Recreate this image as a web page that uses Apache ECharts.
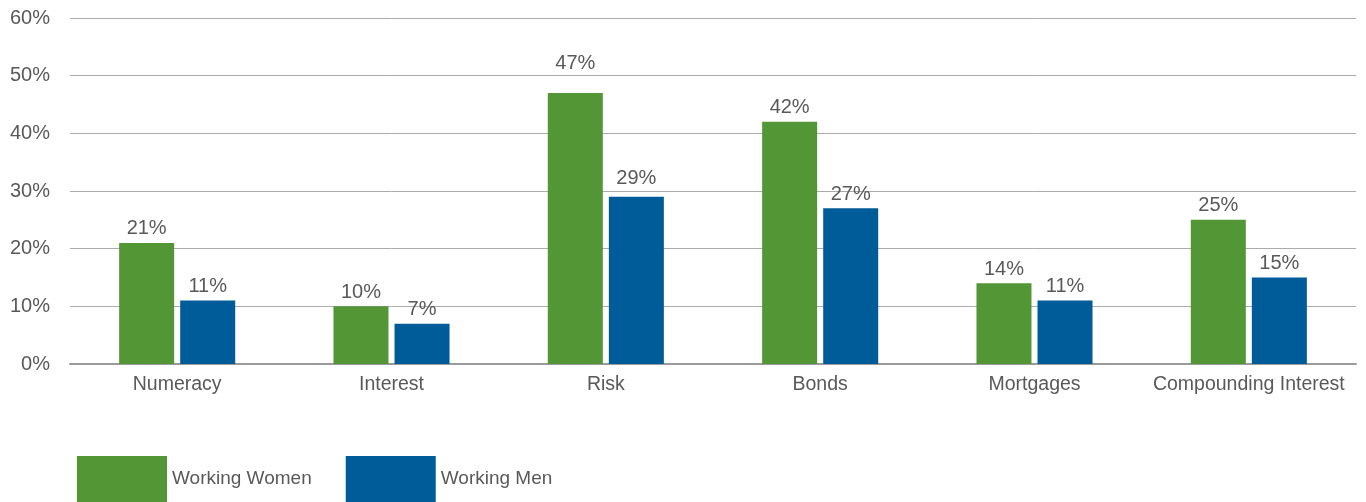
<!DOCTYPE html>
<html><head><meta charset="utf-8">
<script src="https://cdn.jsdelivr.net/npm/echarts@6/dist/echarts.min.js"></script>
<style>html,body{margin:0;padding:0;background:#fff}#c{width:1366px;height:502px}</style>
</head><body><div id="c"></div>
<script>
const categories = ["Numeracy","Interest","Risk","Bonds","Mortgages","Compounding Interest"];
const women = [21,10,47,42,14,25];
const men = [11,7,29,27,11,15];
const seriesNames = ["Working Women","Working Men"];
const yTicks = [0,10,20,30,40,50,60];

const font = "'Liberation Sans',Arial,sans-serif";
const chart = echarts.init(document.getElementById('c'), null, {renderer:'canvas'});
const label = {show:true, position:'top', distance:4, formatter:'{c}%', color:'#595959', fontSize:20, fontFamily:font};
// label spacing tweaks seen in the reference (Risk labels sit higher)
const extraGap = {Risk:[15,4]};
function build(vals, si){
  return vals.map((v,i)=>{
    const g = extraGap[categories[i]];
    return g ? {value:v, label:{distance:4+g[si]}} : v;
  });
}
chart.setOption({
  animation:false,
  grid:{left:70,right:10,top:18,bottom:138,containLabel:false},
  legend:{left:77,top:456,padding:0,itemWidth:90,itemHeight:46,itemGap:34,icon:'rect',
    textStyle:{color:'#595959',fontSize:19,fontFamily:font},
    data:seriesNames},
  xAxis:{type:'category',data:categories,
    axisLine:{lineStyle:{color:'#9a9a9a',width:2}},axisTick:{show:false},
    axisLabel:{color:'#595959',fontSize:19.5,fontFamily:font,margin:11,interval:0}},
  yAxis:{type:'value',min:yTicks[0],max:yTicks[yTicks.length-1],interval:10,
    axisLine:{show:false},axisTick:{show:false},
    splitLine:{lineStyle:{color:'#ababab',width:1}},
    axisLabel:{color:'#595959',fontSize:20,fontFamily:font,formatter:'{value}%',margin:20}},
  series:[
    {name:seriesNames[0],type:'bar',data:build(women,0),barWidth:55,barGap:'11%',itemStyle:{color:'#539636'},label:label},
    {name:seriesNames[1],type:'bar',data:build(men,1),barWidth:55,itemStyle:{color:'#005b99'},label:label}
  ]
});
</script></body></html>
